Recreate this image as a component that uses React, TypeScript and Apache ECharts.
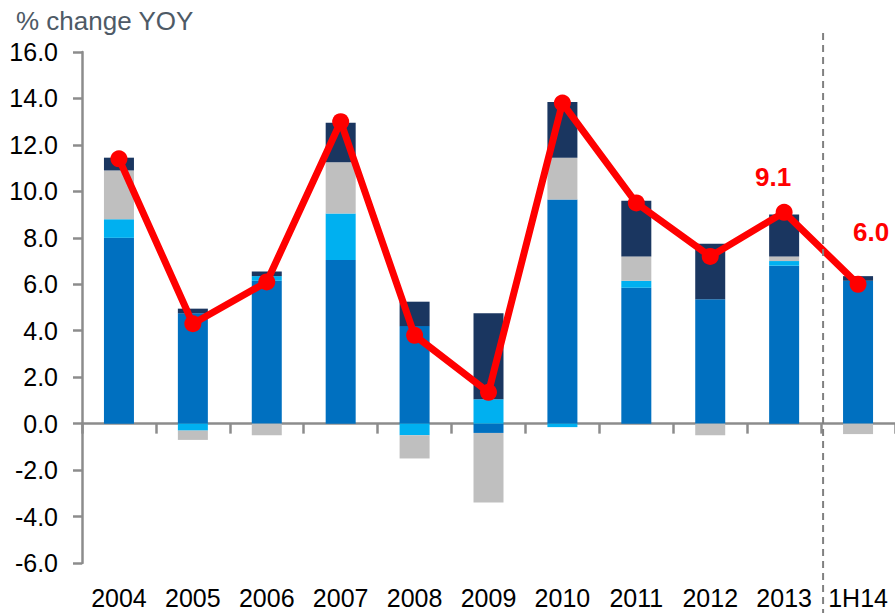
import React, { useEffect, useRef } from "react";
import * as echarts from "echarts";

const categories = ["2004", "2005", "2006", "2007", "2008", "2009", "2010", "2011", "2012", "2013", "1H14"];
const baseComp = [8.0, 4.75, 6.15, 7.05, 4.2, -0.4, 9.65, 5.85, 5.35, 6.8, 6.15];
const lightComp = [0.8, -0.3, 0.2, 2.0, -0.5, 1.05, -0.15, 0.3, 0, 0.2, 0];
const grayComp = [2.1, -0.4, -0.5, 2.2, -1.0, -3.0, 1.8, 1.05, -0.5, 0.2, -0.45];
const navyComp = [0.55, 0.2, 0.2, 1.7, 1.05, 3.7, 2.4, 2.4, 2.4, 1.8, 0.2];
const totalLine = [11.4, 4.3, 6.1, 13.0, 3.8, 1.35, 13.8, 9.5, 7.2, 9.1, 6.0];
const yTicks = { min: -6, max: 16, interval: 2 };

const FONT = "'Liberation Sans', Arial, sans-serif";

export default function App() {
  const ref = useRef<HTMLDivElement>(null);
  useEffect(() => {
    if (!ref.current) return;
    const chart = echarts.init(ref.current, null, { renderer: "svg" });
    const bar = (name: string, data: number[], color: string) => ({
      name,
      type: "bar",
      stack: "total",
      data,
      barWidth: 30,
      itemStyle: { color },
      z: 2,
    });
    chart.setOption({
      animation: false,
      title: {
        text: "% change YOY",
        left: 11,
        top: 3,
        textStyle: { fontFamily: FONT, fontSize: 26, fontWeight: "normal", color: "#4E5A66" },
      },
      grid: { left: 82, right: 0, top: 52, bottom: 50 },
      xAxis: [
        {
          type: "category",
          data: categories,
          axisLine: { onZero: true, lineStyle: { color: "#8C8C8C", width: 2.5 } },
          axisTick: { show: true, length: 10, lineStyle: { color: "#8C8C8C", width: 2.5 } },
          axisLabel: { show: false },
        },
        {
          type: "category",
          data: categories,
          position: "bottom",
          axisLine: { show: false, onZero: false },
          axisTick: { show: false },
          axisLabel: { fontFamily: FONT, fontSize: 25, color: "#000", margin: 22, interval: 0 },
        },
      ],
      yAxis: {
        type: "value",
        min: yTicks.min,
        max: yTicks.max,
        interval: yTicks.interval,
        splitLine: { show: false },
        axisLine: { show: true, lineStyle: { color: "#8C8C8C", width: 2.5 } },
        axisTick: { show: true, length: 9, lineStyle: { color: "#8C8C8C", width: 2.5 } },
        axisLabel: {
          fontFamily: FONT,
          fontSize: 25,
          color: "#000",
          margin: 24,
          formatter: (v: number) => v.toFixed(1),
        },
      },
      series: [
        bar("base", baseComp, "#0070C0"),
        bar("light", lightComp, "#00B0F0"),
        bar("gray", grayComp, "#BFBFBF"),
        bar("navy", navyComp, "#1A3660"),
        {
          name: "total",
          type: "line",
          data: totalLine.map((v, i) => {
            if (i === 9)
              return { value: v, label: { show: true, position: "top", offset: [-11, -9] } };
            if (i === 10)
              return { value: v, label: { show: true, position: "top", offset: [13, -26] } };
            return v;
          }),
          symbol: "circle",
          symbolSize: 17,
          lineStyle: { color: "#FF0000", width: 7 },
          itemStyle: { color: "#FF0000" },
          label: {
            show: false,
            fontFamily: FONT,
            fontSize: 26,
            fontWeight: "bold",
            color: "#FF0000",
            formatter: (p: any) => Number(p.value).toFixed(1),
          },
          z: 5,
        },
      ],
    });
    const x1 = chart.convertToPixel({ xAxisIndex: 0 }, categories[9]) as number;
    const x2 = chart.convertToPixel({ xAxisIndex: 0 }, categories[10]) as number;
    const xs = (x1 + x2) / 2 + 2;
    chart.setOption({
      graphic: [
        {
          type: "line",
          shape: { x1: xs, y1: 33, x2: xs, y2: 613 },
          style: { stroke: "#808080", lineWidth: 2, lineDash: [7, 5] },
          z: 10,
        },
      ],
    });
    return () => chart.dispose();
  }, []);
  return (
    <div
      ref={ref}
      style={{ position: "absolute", left: 0, top: 0, width: 895, height: 613, background: "#fff" }}
    />
  );
}
